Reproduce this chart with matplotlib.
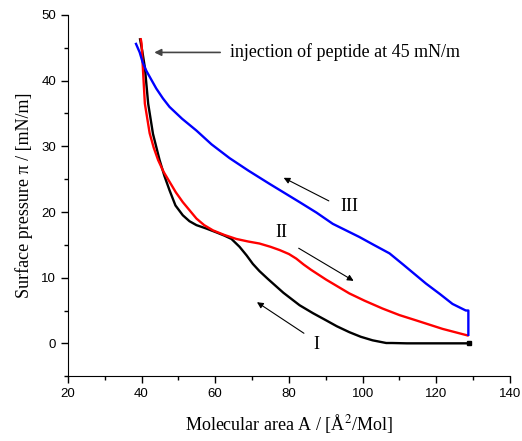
import numpy as np
import matplotlib
matplotlib.use("Agg")
import matplotlib.pyplot as plt
from matplotlib.ticker import MultipleLocator

# Isotherm I (compression, black)
area_I = [128.8, 124, 118, 112, 108, 106.4, 102.7, 99.5, 96.4, 93, 90.1, 86.5, 82.9, 78.5,
          74.3, 72.0, 70.2, 68.5, 66.6, 64.4, 62.5, 60.3, 57.5, 54.9, 53.0, 51.2, 49.2, 47.6,
          46.2, 44.9, 43.1, 41.8, 40.9, 40.2, 39.6]
pi_I = [0.0, 0.0, 0.0, 0.0, 0.05, 0.05, 0.46, 1.0, 1.7, 2.6, 3.5, 4.6, 5.8, 7.7,
        9.8, 11.0, 12.1, 13.4, 14.7, 15.9, 16.4, 16.9, 17.5, 18.0, 18.6, 19.5, 21.0, 23.3,
        25.5, 27.9, 31.9, 36.5, 42.0, 44.5, 46.3]

# Isotherm II (expansion, red)
area_II = [39.8, 40.0, 40.4, 40.9, 42.2, 43.3, 44.5, 46.0, 47.6, 49.3, 51.2, 54.9, 57.0,
           59.4, 62.5, 65.7, 69.0, 72.0, 75.0, 77.5, 80.0, 82.0, 84.0, 86.0, 90.1, 96.4,
           100.5, 105.4, 110.0, 114.5, 121.7, 128.5]
pi_II = [46.3, 45.7, 41.5, 36.5, 32.0, 29.8, 27.9, 26.1, 24.6, 23.0, 21.5, 19.0, 18.0,
         17.2, 16.5, 15.9, 15.5, 15.2, 14.7, 14.2, 13.6, 12.9, 12.0, 11.2, 9.7, 7.6,
         6.5, 5.3, 4.3, 3.5, 2.2, 1.2]

# Isotherm III (second compression, blue)
area_III = [128.7, 128.7, 128.0, 124.4, 121.0, 117.2, 111.0, 107.3, 103.0, 99.1, 95.5,
            91.9, 87.5, 82.9, 78.8, 74.7, 69.0, 63.9, 59.0, 54.9, 51.0, 49.3, 47.6, 45.8,
            44.0, 42.6, 41.3, 40.3, 39.5, 38.5]
pi_III = [1.3, 5.0, 5.0, 6.0, 7.5, 9.1, 12.0, 13.7, 15.0, 16.2, 17.2, 18.2, 19.9, 21.5,
          22.9, 24.3, 26.3, 28.2, 30.3, 32.4, 34.2, 35.1, 36.0, 37.3, 38.8, 40.2, 41.5,
          42.8, 44.3, 45.6]

plt.rcParams['mathtext.fontset'] = 'stix'
serif = 'Liberation Serif'
sans = 'Liberation Sans'

fig = plt.figure(figsize=(5.22, 4.41), dpi=100)
ax = fig.add_axes([0.130, 0.147, 0.847, 0.819])

ax.plot(area_I, pi_I, color='black', lw=1.7)
ax.plot(area_II, pi_II, color='red', lw=1.7)
ax.plot(area_III, pi_III, color='blue', lw=1.7)
ax.plot([128.8], [0.0], marker='s', ms=3, color='black')

ax.set_xlim(20, 140)
ax.set_ylim(-5, 50)
ax.xaxis.set_major_locator(MultipleLocator(20))
ax.xaxis.set_minor_locator(MultipleLocator(10))
ax.yaxis.set_major_locator(MultipleLocator(10))
ax.yaxis.set_minor_locator(MultipleLocator(5))
ax.spines['top'].set_visible(False)
ax.spines['right'].set_visible(False)
ax.tick_params(which='major', direction='out', length=5, width=1, labelsize=9.5)
ax.tick_params(which='minor', direction='out', length=3, width=1)
for lab in ax.get_xticklabels() + ax.get_yticklabels():
    lab.set_fontfamily(sans)

ax.set_xlabel(r'Molecular area A / [Å$^2$/Mol]', family=serif, fontsize=13, labelpad=9)
ax.set_ylabel('Surface pressure π / [mN/m]', family=serif, fontsize=13, labelpad=6)

arrow = dict(arrowstyle='-|>', color='black', lw=0.8, mutation_scale=9)
ax.annotate('', xy=(42.7, 44.3), xytext=(62.1, 44.3),
            arrowprops=dict(arrowstyle='-|>', color='#444444', lw=1.2, mutation_scale=10))
ax.text(63.9, 44.3, 'injection of peptide at 45 mN/m', family=serif, fontsize=13, va='center')

ax.annotate('', xy=(77.9, 25.4), xytext=(91.5, 21.5), arrowprops=arrow)
ax.text(96.3, 20.9, 'III', family=serif, fontsize=13, ha='center', va='center')

ax.annotate('', xy=(98.2, 9.3), xytext=(82.0, 14.7), arrowprops=arrow)
ax.text(77.9, 16.9, 'II', family=serif, fontsize=13, ha='center', va='center')

ax.annotate('', xy=(70.7, 6.5), xytext=(84.7, 1.3), arrowprops=arrow)
ax.text(87.4, -0.15, 'I', family=serif, fontsize=13, ha='center', va='center')

fig.savefig('out.png', dpi=100)
